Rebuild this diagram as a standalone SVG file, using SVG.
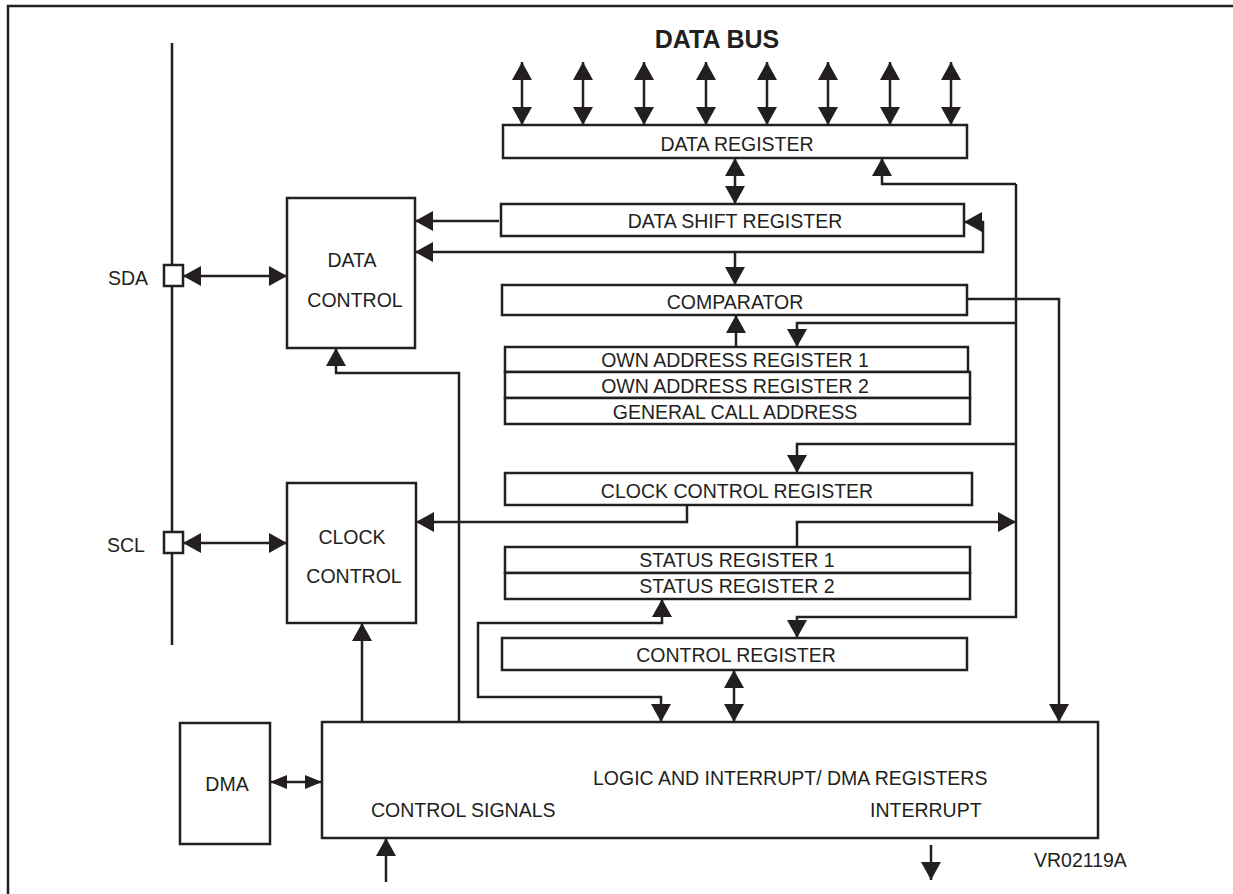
<svg xmlns="http://www.w3.org/2000/svg" width="1233" height="894" viewBox="0 0 1233 894">
<defs>
<style>
.bx{fill:#fff;stroke:#231f20;stroke-width:2.5}
.ln{fill:none;stroke:#231f20;stroke-width:2.5}
.t{font-family:"Liberation Sans",Arial,sans-serif;font-size:19.5px;fill:#231f20;text-anchor:middle}
.ts{font-family:"Liberation Sans",Arial,sans-serif;font-size:19.5px;fill:#231f20;text-anchor:start}
.a{marker-end:url(#ah)}
.aa{marker-start:url(#ah);marker-end:url(#ah)}
</style>
<marker id="ah" viewBox="0 0 18 20" refX="18" refY="10" markerWidth="18" markerHeight="20" markerUnits="userSpaceOnUse" orient="auto-start-reverse"><path d="M0,0 L18,10 L0,20 z" fill="#231f20"/></marker>
<marker id="ahs" viewBox="0 0 17 14" refX="17" refY="7" markerWidth="17" markerHeight="14" markerUnits="userSpaceOnUse" orient="auto-start-reverse"><path d="M0,0 L17,7 L0,14 z" fill="#231f20"/></marker>
</defs>
<rect width="1233" height="894" fill="#fff"/>
<path class="ln" d="M8,894 V6 H1233"/>
<g id="bus-line"><path class="ln" d="M172,43 V645"/></g>
<g id="connectors">
<path class="ln aa" d="M522,62 V125"/>
<path class="ln aa" d="M583,62 V125"/>
<path class="ln aa" d="M644,62 V125"/>
<path class="ln aa" d="M706,62 V125"/>
<path class="ln aa" d="M767,62 V125"/>
<path class="ln aa" d="M828,62 V125"/>
<path class="ln aa" d="M890,62 V125"/>
<path class="ln aa" d="M951,62 V125"/>
<path class="ln aa" d="M735,158 V204"/>
<path class="ln a" d="M1016,184 H882 V158"/>
<path class="ln a" d="M1016,184 V617 H797 V638"/>
<path class="ln a" d="M1016,323 H797 V347"/>
<path class="ln a" d="M1016,444 H797 V473"/>
<path class="ln a" d="M797,547 V522 H1016"/>
<path class="ln a" d="M499,221 H415"/>
<path class="ln aa" d="M415,252 H983 V222 H964"/>
<path class="ln a" d="M735,252 V285"/>
<path class="ln a" d="M736,347 V315"/>
<path class="ln a" d="M967,299 H1059 V722"/>
<path class="ln aa" d="M183,276 H287"/>
<path class="ln aa" d="M183,543 H287"/>
<path class="ln a" d="M687,505 V522 H416"/>
<path class="ln a" d="M362,722 V623"/>
<path class="ln a" d="M459,722 V373 H336 V348"/>
<path class="ln aa" d="M662,599 V623 H478 V697 H661 V722"/>
<path class="ln aa" d="M734,670 V722"/>
<path class="ln" d="M270,782 H322" marker-start="url(#ahs)" marker-end="url(#ahs)"/>
<path class="ln a" d="M386,882 V838"/>
<path class="ln a" d="M931,845 V880"/>
</g>
<text x="717" y="48" font-family="'Liberation Sans',Arial,sans-serif" font-size="25" font-weight="bold" text-anchor="middle" fill="#231f20">DATA BUS</text>
<g id="sda"><rect class="bx" x="164" y="265" width="19" height="21"/><text class="ts" x="108" y="285">SDA</text></g>
<g id="scl"><rect class="bx" x="164" y="532" width="19" height="21"/><text class="ts" x="107" y="552">SCL</text></g>
<g id="data-register"><rect class="bx" x="503" y="125" width="464" height="33"/><text class="t" x="737" y="151">DATA REGISTER</text></g>
<g id="data-shift-register"><rect class="bx" x="501" y="204" width="463" height="32"/><text class="t" x="735" y="228">DATA SHIFT REGISTER</text></g>
<g id="comparator"><rect class="bx" x="502" y="285" width="465" height="30"/><text class="t" x="735" y="309">COMPARATOR</text></g>
<g id="own-address-1"><rect class="bx" x="505" y="347" width="463" height="25"/><text class="t" x="735" y="367">OWN ADDRESS REGISTER 1</text></g>
<g id="own-address-2"><rect class="bx" x="505" y="372" width="465" height="26"/><text class="t" x="735" y="393">OWN ADDRESS REGISTER 2</text></g>
<g id="general-call"><rect class="bx" x="505" y="398" width="465" height="26"/><text class="t" x="735" y="419">GENERAL CALL ADDRESS</text></g>
<g id="clock-control-register"><rect class="bx" x="505" y="473" width="467" height="32"/><text class="t" x="737" y="498">CLOCK CONTROL REGISTER</text></g>
<g id="status-1"><rect class="bx" x="505" y="547" width="465" height="26"/><text class="t" x="737" y="567">STATUS REGISTER 1</text></g>
<g id="status-2"><rect class="bx" x="505" y="573" width="465" height="26"/><text class="t" x="737" y="593">STATUS REGISTER 2</text></g>
<g id="control-register"><rect class="bx" x="502" y="638" width="465" height="32"/><text class="t" x="736" y="662">CONTROL REGISTER</text></g>
<g id="data-control"><rect class="bx" x="287" y="198" width="128" height="150"/><text class="t" x="352" y="267">DATA</text><text class="t" x="355" y="307">CONTROL</text></g>
<g id="clock-control"><rect class="bx" x="287" y="483" width="129" height="140"/><text class="t" x="352" y="544">CLOCK</text><text class="t" x="354" y="583">CONTROL</text></g>
<g id="dma"><rect class="bx" x="180" y="723" width="90" height="121"/><text class="t" x="227" y="791">DMA</text></g>
<g id="logic"><rect class="bx" x="322" y="722" width="776" height="116"/>
<text class="ts" x="593" y="785">LOGIC AND INTERRUPT/ DMA REGISTERS</text>
<text class="ts" x="371" y="817">CONTROL SIGNALS</text>
<text class="ts" x="870" y="817">INTERRUPT</text></g>
<text class="ts" x="1034" y="867" font-size="21">VR02119A</text>
</svg>
